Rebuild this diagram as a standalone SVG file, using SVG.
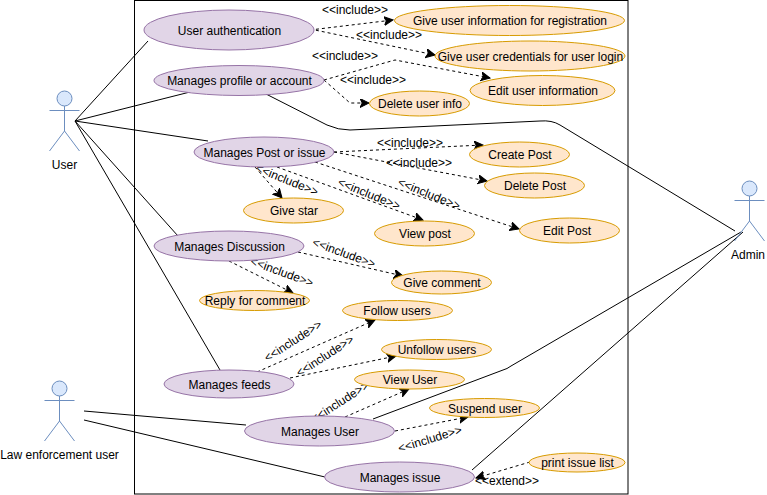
<svg xmlns="http://www.w3.org/2000/svg" width="767" height="495" viewBox="0 0 767 495">
<style>
text{font-family:"Liberation Sans",Arial,sans-serif;font-size:12px;fill:#000;text-anchor:middle;dominant-baseline:central}
g[id^=uc] text{transform:translate(0.5px,0.5px)}
.p{fill:#e1d5e7;stroke:#9673a6}
.o{fill:#ffe6cc;stroke:#d79b00}
.a{fill:none;stroke:#6c8ebf}
.h{fill:#dae8fc;stroke:#6c8ebf}
.s{fill:none;stroke:#000}
.d{fill:none;stroke:#000;stroke-dasharray:3 3;marker-end:url(#m)}
</style>
<defs><marker id="m" markerUnits="userSpaceOnUse" markerWidth="12" markerHeight="10" refX="9" refY="4.5" orient="auto"><path d="M0 0L9 4.5L0 9L2.2 4.5Z" fill="#000" stroke="#000"/></marker></defs>
<rect id="frame" x="134.500" y="0.500" width="493.500" height="493.500" fill="#fff" stroke="#000"/>
<g id="connectors">
<path class="s" d="M75 121L148 41M75 121L190 92M75 121L208 141M75 121L178 236M75 121L220 370M266 94L327 125Q338 130 350 130L540 121Q552 120 560 125L735 231M373 419L503 370Q507 369 511 366L741 232M472 470L743 232M84 411L246 425M84 420L325 477"/>
<path class="d" d="M310 30L393 20"/>
<path class="d" d="M310 29L435 55"/>
<path class="d" d="M324 80L395 60L490 78"/>
<path class="d" d="M324 80L350 103L369 103"/>
<path class="d" d="M334 152L483 145"/>
<path class="d" d="M334 152L487 181"/>
<path class="d" d="M315 162L519 229"/>
<path class="d" d="M255 167L282 198"/>
<path class="d" d="M277 167L423 220"/>
<path class="d" d="M298 252L403 276"/>
<path class="d" d="M229 261L293 293"/>
<path class="d" d="M257 372L375 320"/>
<path class="d" d="M290 378L396 356"/>
<path class="d" d="M345 417L409 389"/>
<path class="d" d="M395 431L468 417"/>
<path class="d" d="M530 462L476 478"/>
<text x="355" y="10">&lt;&lt;include&gt;&gt;</text>
<text x="389" y="35">&lt;&lt;include&gt;&gt;</text>
<text x="345" y="56">&lt;&lt;include&gt;&gt;</text>
<text x="373" y="80">&lt;&lt;include&gt;&gt;</text>
<text x="410" y="143">&lt;&lt;include&gt;&gt;</text>
<text x="419" y="162.500">&lt;&lt;include&gt;&gt;</text>
<text transform="translate(287 180) rotate(22)">&lt;&lt;include&gt;&gt;</text>
<text transform="translate(369 194) rotate(22)">&lt;&lt;include&gt;&gt;</text>
<text transform="translate(429 194) rotate(22)">&lt;&lt;include&gt;&gt;</text>
<text transform="translate(344 253) rotate(20)">&lt;&lt;include&gt;&gt;</text>
<text transform="translate(282 272) rotate(20)">&lt;&lt;include&gt;&gt;</text>
<text transform="translate(293 341) rotate(-33)">&lt;&lt;include&gt;&gt;</text>
<text transform="translate(325 356) rotate(-33)">&lt;&lt;include&gt;&gt;</text>
<text transform="translate(340 402) rotate(-33)">&lt;&lt;include&gt;&gt;</text>
<text transform="translate(430 439) rotate(-17)">&lt;&lt;include&gt;&gt;</text>
<text x="507" y="481">&lt;&lt;extend&gt;&gt;</text>
</g>
<g id="actor-user"><circle class="h" cx="64.500" cy="98.500" r="7.500"/><path class="a" d="M64.500 106V131M49.500 110.500H79.500M49.500 151L64.500 131L79.500 151"/><text x="64.500" y="165">User</text></g>
<g id="actor-admin"><circle class="h" cx="749.500" cy="188.500" r="7.500"/><path class="a" d="M749.500 196V221M734.500 200.500H764.500M734.500 241L749.500 221L764.500 241"/><text x="748" y="255">Admin</text></g>
<g id="actor-law"><circle class="h" cx="59.500" cy="388.500" r="7.500"/><path class="a" d="M59.500 396V421M44.500 400.500H74.500M44.500 441L59.500 421L74.500 441"/><text x="59.500" y="455">Law enforcement user</text></g>
<g id="uc-auth"><ellipse class="p" cx="229" cy="30" rx="85" ry="20"/><text x="229" y="30">User authentication</text></g>
<g id="uc-profile"><ellipse class="p" cx="239" cy="80.500" rx="85" ry="15"/><text x="239" y="80.500">Manages profile or account</text></g>
<g id="uc-post"><ellipse class="p" cx="264" cy="152" rx="70" ry="15"/><text x="264" y="152">Manages Post or issue</text></g>
<g id="uc-discussion"><ellipse class="p" cx="229" cy="246" rx="75" ry="15"/><text x="229" y="246">Manages Discussion</text></g>
<g id="uc-feeds"><ellipse class="p" cx="229" cy="384" rx="65" ry="14"/><text x="229" y="384">Manages feeds</text></g>
<g id="uc-user"><ellipse class="p" cx="319.500" cy="431" rx="75" ry="15"/><text x="319.500" y="431">Manages User</text></g>
<g id="uc-issue"><ellipse class="p" cx="399.500" cy="477" rx="75" ry="15"/><text x="399.500" y="477">Manages issue</text></g>
<g id="uc-reg"><ellipse class="o" cx="509.500" cy="20.500" rx="115" ry="15"/><text x="509.500" y="20.500">Give user information for registration</text></g>
<g id="uc-login"><ellipse class="o" cx="530" cy="56" rx="95" ry="15"/><text x="530" y="56">Give user credentials for user login</text></g>
<g id="uc-edit-info"><ellipse class="o" cx="542.500" cy="90.500" rx="72.500" ry="15"/><text x="542.500" y="90.500">Edit user information</text></g>
<g id="uc-delete-info"><ellipse class="o" cx="419.500" cy="103.500" rx="50" ry="12.500"/><text x="419.500" y="103.500">Delete user info</text></g>
<g id="uc-create-post"><ellipse class="o" cx="519.500" cy="154.500" rx="50" ry="12.500"/><text x="519.500" y="154.500">Create Post</text></g>
<g id="uc-delete-post"><ellipse class="o" cx="534.500" cy="185.500" rx="50" ry="12.500"/><text x="534.500" y="185.500">Delete Post</text></g>
<g id="uc-edit-post"><ellipse class="o" cx="569.500" cy="230.500" rx="50" ry="12.500"/><text x="566.500" y="230.500">Edit Post</text></g>
<g id="uc-star"><ellipse class="o" cx="293.500" cy="210.500" rx="50" ry="12.500"/><text x="293.500" y="210.500">Give star</text></g>
<g id="uc-view-post"><ellipse class="o" cx="424.500" cy="233.500" rx="50" ry="12.500"/><text x="424.500" y="233.500">View post</text></g>
<g id="uc-comment"><ellipse class="o" cx="441.500" cy="282.500" rx="50" ry="11.500"/><text x="441.500" y="282.500">Give comment</text></g>
<g id="uc-reply"><ellipse class="o" cx="254.500" cy="300.500" rx="55" ry="10"/><text x="254.500" y="300.500">Reply for comment</text></g>
<g id="uc-follow"><ellipse class="o" cx="397.500" cy="310.500" rx="55" ry="10"/><text x="396.500" y="310.500">Follow users</text></g>
<g id="uc-unfollow"><ellipse class="o" cx="436.500" cy="349.500" rx="55" ry="10"/><text x="436.500" y="349.500">Unfollow users</text></g>
<g id="uc-view-user"><ellipse class="o" cx="409.500" cy="379.500" rx="55" ry="9.500"/><text x="409.500" y="379.500">View User</text></g>
<g id="uc-suspend"><ellipse class="o" cx="484.500" cy="408" rx="55" ry="9.500"/><text x="484.500" y="408">Suspend user</text></g>
<g id="uc-print"><ellipse class="o" cx="577" cy="462.500" rx="48" ry="9.500"/><text x="577" y="462.500">print issue list</text></g>
</svg>
